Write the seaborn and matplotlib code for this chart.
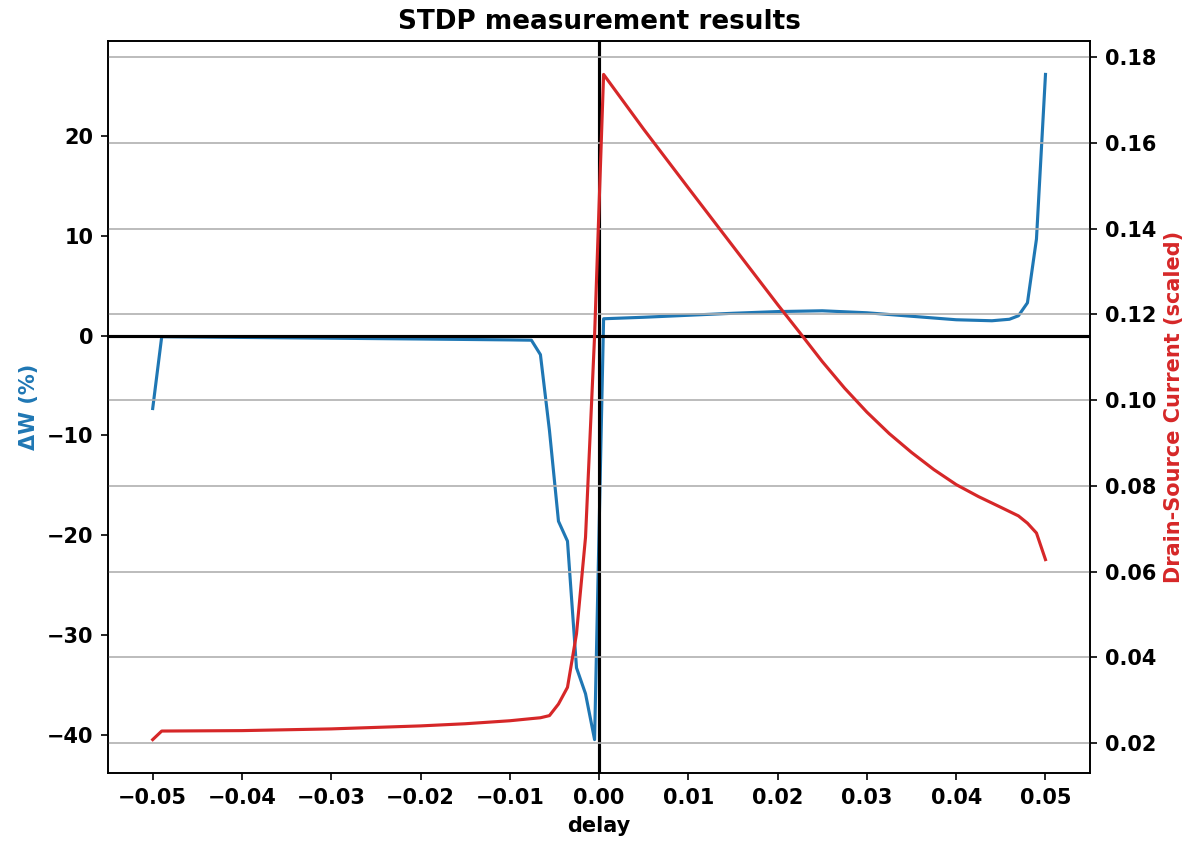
import matplotlib
matplotlib.use("Agg")
import matplotlib.pyplot as plt
import seaborn as sns
import pandas as pd

plt.rcParams['font.family'] = ['DejaVu Sans']
plt.rcParams['font.weight'] = 'bold'
plt.rcParams['axes.labelweight'] = 'bold'
plt.rcParams['axes.titleweight'] = 'bold'

# Weight change (left axis)
dw_delay = [-0.05, -0.04899, -0.03, -0.02, -0.01, -0.00758, -0.00657, -0.00556,
            -0.00455, -0.00354, -0.00253, -0.00152, -0.000505, 0.000505,
            0.005, 0.01, 0.015, 0.02, 0.025, 0.03, 0.035, 0.04, 0.044,
            0.04596, 0.04697, 0.04798, 0.04899, 0.05]
dw_values = [-7.3, -0.1, -0.25, -0.33, -0.42, -0.45, -1.9, -9.5,
             -18.6, -20.6, -33.3, -35.9, -40.5, 1.7,
             1.85, 2.05, 2.25, 2.42, 2.5, 2.3, 1.95, 1.6, 1.5,
             1.65, 2.0, 3.3, 9.7, 26.2]

# Drain-source current (right axis)
ids_delay = [-0.05, -0.04899, -0.04, -0.03, -0.02, -0.015, -0.01, -0.00758,
             -0.00657, -0.00556, -0.00455, -0.00354, -0.00253, -0.00152,
             -0.000505, 0.000505, 0.005, 0.01, 0.015, 0.02, 0.0225, 0.025,
             0.0275, 0.03, 0.0325, 0.035, 0.0375, 0.04, 0.0425, 0.045,
             0.04697, 0.04798, 0.04899, 0.05]
ids_values = [0.0208, 0.0228, 0.0229, 0.0233, 0.0240, 0.0245, 0.0252, 0.0257,
              0.0259, 0.0264, 0.0291, 0.0330, 0.0455, 0.068,
              0.115, 0.1760, 0.1632, 0.1495, 0.1359, 0.1223, 0.1157, 0.1090,
              0.1028, 0.0972, 0.0922, 0.0878, 0.0838, 0.0803, 0.0775, 0.0750,
              0.0730, 0.0713, 0.0690, 0.0628]

df_dw = pd.DataFrame({"delay": dw_delay, "dw": dw_values})
df_ids = pd.DataFrame({"delay": ids_delay, "ids": ids_values})

fig, ax = plt.subplots(figsize=(7.96, 5.607), dpi=150)
fig.subplots_adjust(left=0.0905, right=0.913, top=0.951, bottom=0.081)

blue = '#1f77b4'
red = '#d62728'

sns.lineplot(data=df_dw, x="delay", y="dw", ax=ax, color=blue, lw=1.5,
             sort=False, estimator=None)
ax.axhline(0, color='black', lw=1.5)
ax.axvline(0, color='black', lw=1.5)
ax.set_xlabel("delay")
ax.set_ylabel("ΔW (%)", color=blue)
ax.set_xticks([-0.05, -0.04, -0.03, -0.02, -0.01, 0.0, 0.01, 0.02, 0.03, 0.04, 0.05])
ax.set_xticklabels(["−0.05", "−0.04", "−0.03", "−0.02", "−0.01", "0.00",
                    "0.01", "0.02", "0.03", "0.04", "0.05"])

ax2 = ax.twinx()
sns.lineplot(data=df_ids, x="delay", y="ids", ax=ax2, color=red, lw=1.5,
             sort=False, estimator=None)
ax2.set_ylabel("Drain-Source Current (scaled)", color=red)
ax2.grid(True, axis='y')
ax2.set_yticks([0.02, 0.04, 0.06, 0.08, 0.10, 0.12, 0.14, 0.16, 0.18])

ax.set_title("STDP measurement results", fontsize=12.6)

fig.savefig("out.png", dpi=150)
